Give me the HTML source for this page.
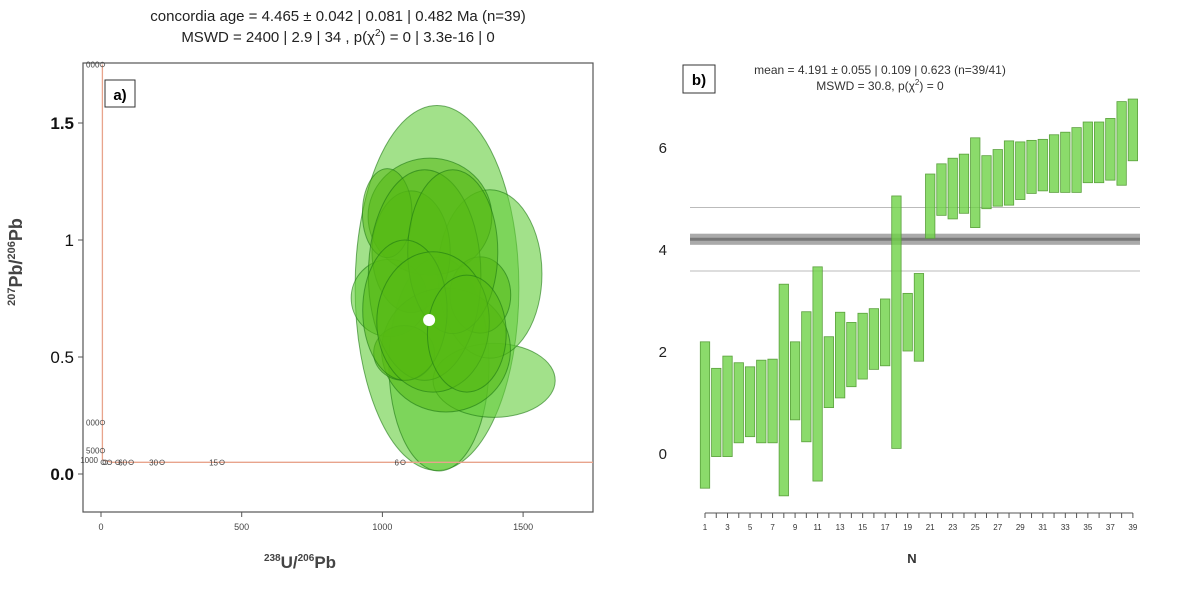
<!DOCTYPE html>
<html><head><meta charset="utf-8">
<style>
body{margin:0;background:#fff;width:1188px;height:598px;overflow:hidden;font-family:"Liberation Sans",sans-serif}
svg{position:absolute;left:0;top:0}
</style></head>
<body>
<svg id="chart" width="1188" height="598" viewBox="0 0 1188 598">
<g id="pa">
 <text x="338" y="21" text-anchor="middle" font-size="15" fill="#222">concordia age = 4.465 ± 0.042 | 0.081 | 0.482 Ma (n=39)</text>
 <text x="338" y="42" text-anchor="middle" font-size="15" fill="#222">MSWD = 2400 | 2.9 | 34 , p(χ<tspan font-size="10" dy="-6">2</tspan><tspan dy="6">) = 0 | 3.3e-16 | 0</tspan></text>
 <rect x="83" y="63" width="510" height="449" fill="none" stroke="#555" stroke-width="1.2"/>
 <g id="ellipses"></g>
 <g id="concordia"></g>
 <rect x="105" y="80" width="30" height="27" fill="#fff" stroke="#333"/>
 <text x="120" y="100" text-anchor="middle" font-size="15" font-weight="bold">a)</text>
 <g id="aticks"></g>
 <text x="300" y="568" text-anchor="middle" font-size="17" font-weight="bold" fill="#444"><tspan font-size="10" dy="-7">238</tspan><tspan dy="7">U/</tspan><tspan font-size="10" dy="-7">206</tspan><tspan dy="7">Pb</tspan></text>
 <text transform="translate(22,262) rotate(-90)" text-anchor="middle" font-size="18" font-weight="bold" fill="#444"><tspan font-size="11" dy="-7">207</tspan><tspan dy="7">Pb/</tspan><tspan font-size="11" dy="-7">206</tspan><tspan dy="7">Pb</tspan></text>
</g>
<g id="pb">
 <rect x="683" y="65" width="32" height="28" fill="#fff" stroke="#333"/>
 <text x="699" y="85" text-anchor="middle" font-size="15" font-weight="bold">b)</text>
 <text x="880" y="74" text-anchor="middle" font-size="12" fill="#333">mean = 4.191 ± 0.055 | 0.109 | 0.623  (n=39/41)</text>
 <text x="880" y="90" text-anchor="middle" font-size="12" fill="#333">MSWD = 30.8, p(χ<tspan font-size="8" dy="-5">2</tspan><tspan dy="5">) = 0</tspan></text>
 <g id="bplot"></g>
 <text x="912" y="563" text-anchor="middle" font-size="13" font-weight="bold" fill="#333">N</text>
</g>
</svg>
<script>
const NS="http://www.w3.org/2000/svg";
function mk(tag,attrs,parent){const e=document.createElementNS(NS,tag);for(const k in attrs)e.setAttribute(k,attrs[k]);parent.appendChild(e);return e;}
// ---- panel a data ----
const ellCx=[1194,1201,1397,1382,1024,1169,1102,1017,1226,1077,1348,1150,1250,1080,1180,1300];
const ellCy=[0.795,0.47,0.40,0.855,0.752,1.10,0.95,1.115,0.53,0.517,0.765,0.85,0.95,0.70,0.65,0.60];
const ellRx=[291,178,217,185,135,220,139,88,229,108,108,200,160,150,200,140];
const ellRy=[0.78,0.457,0.158,0.36,0.165,0.25,0.26,0.19,0.265,0.117,0.163,0.45,0.35,0.30,0.30,0.25];
const aXTicks=[0,500,1000,1500];
const aYTicks=[0,0.5,1,1.5];
const aYLabels=["0.0","0.5","1","1.5"];
const concX=[1073,430,217,107,60,30,15,8];
const concLabels=["6","15","30","60","","","",""];
const ax=v=>101+v*0.2814;
const ay=v=>474-v*234;
const eg=document.getElementById('ellipses');
for(let i=0;i<ellCx.length;i++){
 const e=mk('ellipse',{cx:ax(ellCx[i]),cy:ay(ellCy[i]),rx:ellRx[i]*0.2814,ry:ellRy[i]*234,fill:i<5?'rgba(100,205,60,0.6)':'rgba(85,185,20,0.55)',stroke:'rgba(30,120,20,0.6)','stroke-width':1},eg);
 
 
}
const wd=mk('circle',{cx:ax(1166),cy:ay(0.658),r:6,fill:'#fff'},eg);


const cg=document.getElementById('concordia');
mk('polyline',{points:`${ax(5)},${ay(1.75)} ${ax(5)},${ay(0.06)} ${ax(40)},${ay(0.05)} 593,${ay(0.05)}`,fill:'none',stroke:'#e8a48c','stroke-width':1.3},cg);
for(let i=0;i<concX.length;i++){
 const c=mk('circle',{cx:ax(concX[i]),cy:ay(0.05),r:2.3,fill:'none',stroke:'#555','stroke-width':0.8},cg);
 
 
 if(concLabels[i]){const t=mk('text',{x:ax(concX[i])-4,y:ay(0.05)+3,'text-anchor':'end','font-size':8,fill:'#444'},cg);t.textContent=concLabels[i];}
}
[[1.75,'4000'],[0.22,'2000'],[0.1,'1500']].forEach(p=>{mk('circle',{cx:ax(5),cy:ay(p[0]),r:2.3,fill:'none',stroke:'#555','stroke-width':0.8},cg);const t=mk('text',{x:ax(5)-3,y:ay(p[0])+3,'text-anchor':'end','font-size':8,fill:'#444'},cg);t.textContent=p[1].slice(1);});
const tl=mk('text',{x:98,y:ay(0.06)+3,'text-anchor':'end','font-size':8,fill:'#444'},cg);tl.textContent='1000';
const at=document.getElementById('aticks');
aXTicks.forEach(v=>{mk('line',{x1:ax(v),x2:ax(v),y1:512,y2:517,stroke:'#555'},at);const t=mk('text',{x:ax(v),y:530,'text-anchor':'middle','font-size':9,fill:'#444'},at);t.textContent=v;});
aYTicks.forEach((v,i)=>{mk('line',{x1:78,x2:83,y1:ay(v),y2:ay(v),stroke:'#555'},at);const t=mk('text',{x:74,y:ay(v)+6,'text-anchor':'end','font-size':17,'font-weight':(i==0||i==3)?'bold':'normal',fill:'#111'},at);t.textContent=aYLabels[i];});
// ---- panel b data ----
const idx=[1,2,3,4,5,6,7,8,9,10,11,12,13,14,15,16,17,18,19,20,21,22,23,24,25,26,27,28,29,30,31,32,33,34,35,36,37,38,39];
const upper=[2.18,1.66,1.90,1.77,1.69,1.82,1.84,3.31,2.18,2.77,3.65,2.28,2.76,2.56,2.74,2.83,3.02,5.04,3.13,3.52,5.47,5.67,5.78,5.86,6.18,5.83,5.95,6.12,6.10,6.13,6.15,6.24,6.29,6.38,6.49,6.49,6.56,6.89,6.94];
const lower=[-0.69,-0.07,-0.07,0.20,0.32,0.20,0.20,-0.84,0.65,0.22,-0.55,0.89,1.08,1.30,1.45,1.64,1.71,0.09,2.0,1.80,4.21,4.66,4.59,4.70,4.42,4.79,4.84,4.86,4.97,5.09,5.14,5.11,5.11,5.11,5.30,5.30,5.35,5.25,5.73];
const meanVal=4.191, meanErr=0.109, sdLine=0.623;
const bYTicks=[0,2,4,6];
const bx=n=>705+(n-1)*11.26;
const by=v=>453-v*51;
const bg=document.getElementById('bplot');
mk('line',{x1:690,x2:1140,y1:by(meanVal+sdLine),y2:by(meanVal+sdLine),stroke:'#bbb','stroke-width':1},bg);
mk('line',{x1:690,x2:1140,y1:by(meanVal-sdLine),y2:by(meanVal-sdLine),stroke:'#bbb','stroke-width':1},bg);
const band=mk('rect',{x:690,y:by(meanVal+meanErr),width:450,height:by(meanVal-meanErr)-by(meanVal+meanErr),fill:'#aaa'},bg);


mk('line',{x1:690,x2:1140,y1:by(meanVal),y2:by(meanVal),stroke:'#777','stroke-width':3},bg);
for(let i=0;i<idx.length;i++){
 const r=mk('rect',{x:bx(idx[i])-4.7,y:by(upper[i]),width:9.4,height:by(lower[i])-by(upper[i]),fill:'rgba(110,210,70,0.8)',stroke:'#5aa03c','stroke-width':0.8},bg);
 
 
}
bYTicks.forEach(v=>{const t=mk('text',{x:667,y:by(v)+6,'text-anchor':'end','font-size':15,fill:'#222'},bg);t.textContent=v;});
mk('line',{x1:bx(1),x2:bx(39),y1:513,y2:513,stroke:'#555'},bg);
idx.forEach(n=>{mk('line',{x1:bx(n),x2:bx(n),y1:513,y2:518,stroke:'#555'},bg);if(n%2==1){const t=mk('text',{x:bx(n),y:530,'text-anchor':'middle','font-size':8,fill:'#333'},bg);t.textContent=n;}});
</script>
</body></html>
